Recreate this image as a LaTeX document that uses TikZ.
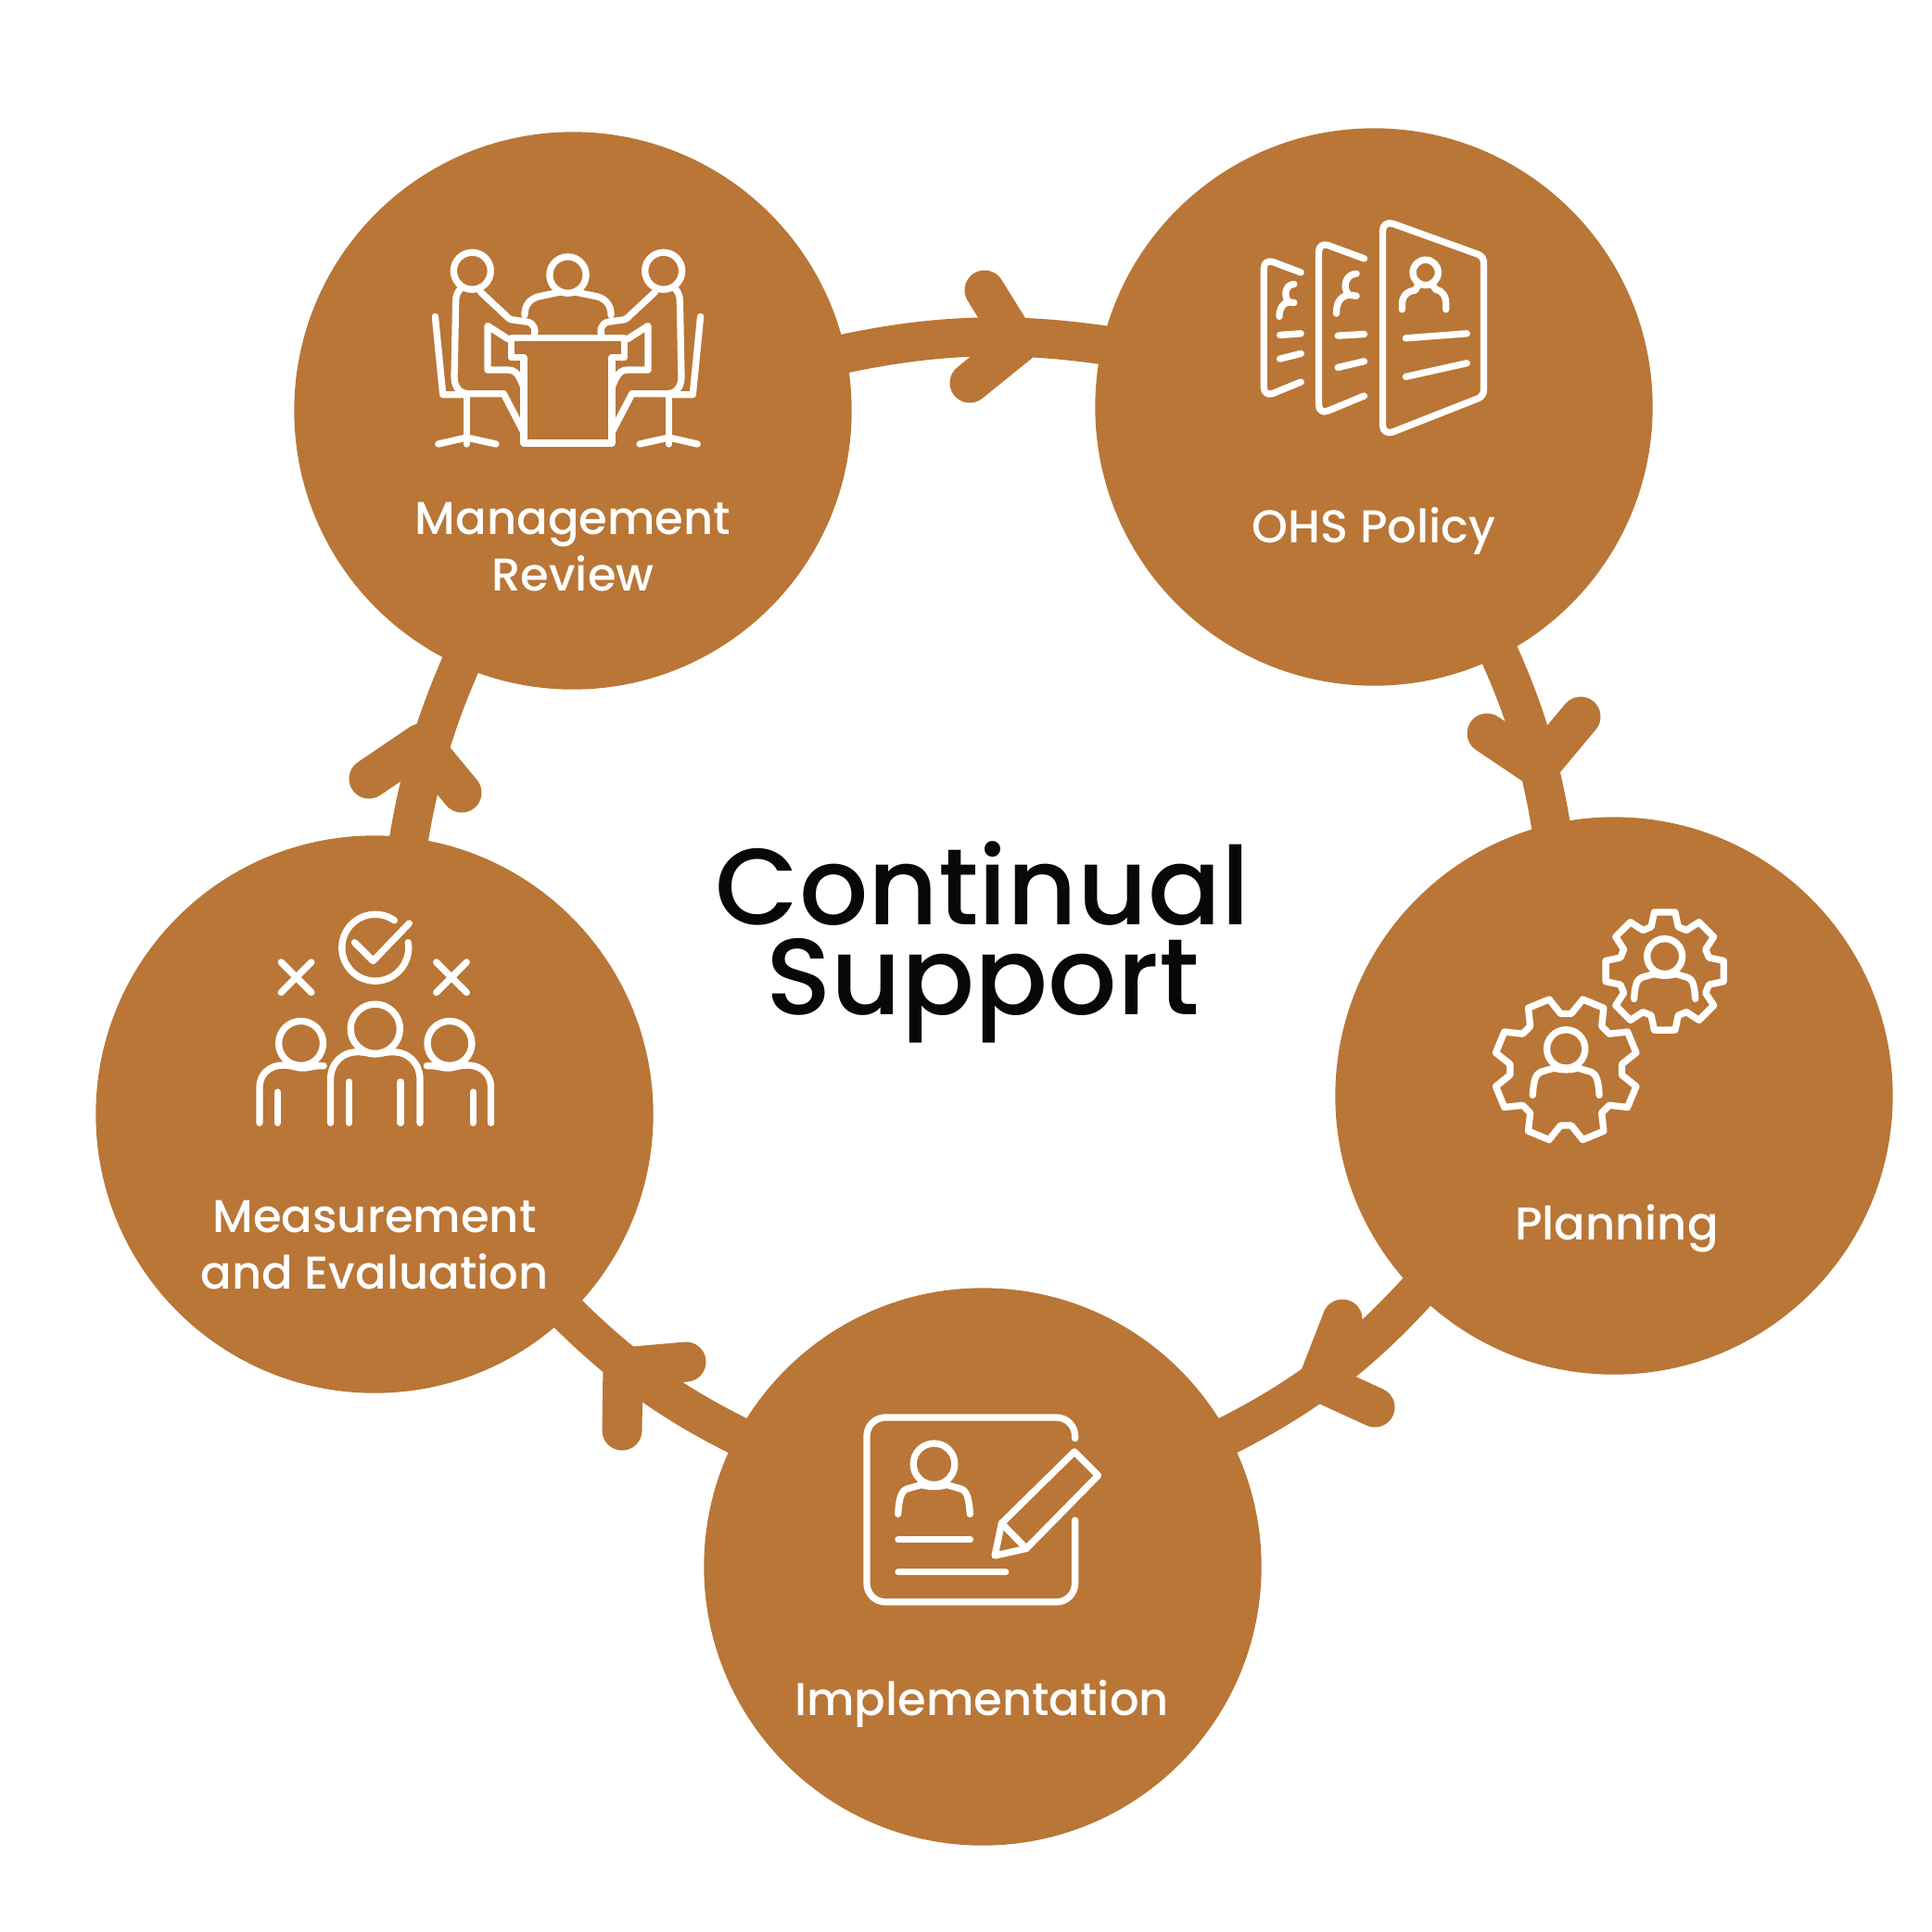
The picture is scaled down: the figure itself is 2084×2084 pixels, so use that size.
\documentclass[tikz,border=0pt]{standalone}
\usepackage{fontspec}
\setmainfont{Poppins}
\newfontfamily\titlefont[UprightFont={* Medium}]{Poppins}
\usetikzlibrary{backgrounds}
\definecolor{ochre}{RGB}{185,118,54}
\definecolor{inkblack}{RGB}{6,8,9}
\tikzset{
stage/.style = {circle, fill=ochre, minimum size=6.01cm, inner sep=0pt},
ringline/.style = {draw=ochre, line width=0.42cm, looseness=0.85, shorten <=-12pt, shorten >=-12pt},
headline/.style = {draw=ochre, line width=0.43cm, line cap=round, line join=round},
icon/.style = {draw=white, line width=0.073cm, line cap=round, line join=round},
zoomed/.style = {x=0.003333cm, y=-0.003333cm},
stagelabel/.style = {text=white, align=center, inner sep=0pt, font=\titlefont\fontsize{14.1}{17.3}\selectfont},
maintitle/.style = {text=inkblack, align=center, inner sep=0pt, font=\titlefont\fontsize{33.2}{27.6}\selectfont}
}
\newcommand{\bust}[3]{%
  \draw[icon] (#1,#2) circle[radius=#3];
  \draw[icon] ({#1-1.74*#3},{#2+2.42*#3}) .. controls ({#1-1.7*#3},{#2+1.7*#3}) and ({#1-1.6*#3},{#2+1.3*#3}) .. ({#1-1.3*#3},{#2+1.2*#3})
    -- ({#1-.6*#3},{#2+1.0*#3}) .. controls ({#1-.3*#3},{#2+1.12*#3}) and ({#1+.3*#3},{#2+1.12*#3}) .. ({#1+.6*#3},{#2+1.0*#3})
    -- ({#1+1.3*#3},{#2+1.2*#3}) .. controls ({#1+1.6*#3},{#2+1.3*#3}) and ({#1+1.7*#3},{#2+1.7*#3}) .. ({#1+1.74*#3},{#2+2.42*#3});
}
\begin{document}
\begin{tikzpicture}[x=0.01cm, y=-0.01cm]
    \useasboundingbox (0,0) rectangle (2084,2084);
    \node[stage] (review) at (618,443) {};
    \node[stage] (policy) at (1482,439) {};
    \node[stage] (planning) at (1741,1182) {};
    \node[stage] (implement) at (1060,1690) {};
    \node[stage] (measure) at (404,1202) {};
    \begin{scope}[on background layer]
    \draw[ringline] (review.12) to[bend left=12] (policy.167.7);
    \draw[ringline] (policy.-63.3) to[bend left=9] (planning.103);
    \draw[ringline] (planning.225) to[bend left=12.5] (implement.28);
    \draw[ringline] (implement.152.2) to[bend left=11] (measure.-46.4);
    \draw[ringline] (measure.83.7) to[bend left=8.5] (review.246.9);
    \draw[headline] (1062,313) -- (1098,371) -- (1046,413);
    \draw[headline] (1604,791) -- (1659,828) -- (1705,773);
    \draw[headline] (1448,1423) -- (1422,1490) -- (1483,1518);
    \draw[headline] (740,1469) -- (672,1475) -- (671,1543);
    \draw[headline] (398,840) -- (454,802) -- (498,855);
    \end{scope}
    \node[maintitle] (title) at (1060,1016) {Continual\\Support};
    \node[stagelabel] (reviewlabel) at (618,590) {Management\\Review};
    \node[stagelabel] (policylabel) at (1482,573) {OHS Policy};
    \node[stagelabel] (planninglabel) at (1744,1325) {Planning};
    \node[stagelabel] (implementlabel) at (1059,1838) {Implementation};
    \node[stagelabel] (measurelabel) at (404,1343) {Measurement\\and Evaluation};
    % meeting table
    \begin{scope}[shift={(612.5,240)},zoomed]
    \draw[icon] (0,170) circle[radius=59];
    \foreach \m in {1,-1} {
    \begin{scope}[xscale=\m]
    \draw[icon] (-310,157) circle[radius=60];
    \draw[icon] (-348,215) .. controls (-358,225) and (-362,238) .. (-363,250) -- (-368,500) .. controls (-368,535) and (-350,555) .. (-320,555) -- (-208,555) -- (-143,680);
    \draw[icon] (-430,305) -- (-405,558) -- (-325,558);
    \draw[icon] (-328,558) -- (-328,718);
    \draw[icon] (-420,718) -- (-328,697) -- (-233,718);
    \draw[icon] (-283,225) -- (-192,310) .. controls (-187,315) and (-182,315) .. (-175,316) -- (-132,322) .. controls (-110,325) and (-100,350) .. (-112,372);
    \draw[icon] (-193,378) -- (-260,335) -- (-260,478) -- (-195,478) .. controls (-170,478) and (-160,490) .. (-143,535);
    \draw[icon] (0,375) -- (-183,375) -- (-183,438) -- (-143,438) -- (-143,715) -- (0,715);
    \draw[icon] (-22,225) -- (-95,240) .. controls (-125,248) and (-140,270) .. (-140,300);
    \end{scope}
    }
    \end{scope}
    % policy sheets
    \begin{scope}[shift={(1340,220)},zoomed]
    \draw[icon] (455,400) [rounded corners=3.4pt] -- (455,52) [rounded corners=1.9pt] -- (783,170) -- (783,623) [rounded corners=3.4pt] -- (455,752) -- cycle;
    \draw[icon] (594,222) circle[radius=41];
    \draw[icon] (518,342) -- (518,325) .. controls (518,298) and (535,282) .. (560,280) -- (572,260);
    \draw[icon] (660,342) -- (660,325) .. controls (660,298) and (650,282) .. (628,278) -- (615,260);
    \draw[icon] (530,435) -- (728,420);
    \draw[icon] (530,560) -- (728,516);
    \draw[icon, rounded corners=3pt] (395,177) -- (248,123) -- (248,683) -- (395,622);
    \draw[icon] (310,427) -- (395,422);
    \draw[icon] (310,530) -- (395,510);
    \draw[icon] (370,226) .. controls (340,226) and (320,265) .. (345,295) -- (370,298);
    \draw[icon] (345,295) .. controls (320,300) and (305,315) .. (305,355);
    \draw[icon, rounded corners=3pt] (190,222) -- (70,177) -- (70,626) -- (190,577);
    \draw[icon] (122,425) -- (190,420);
    \draw[icon] (122,502) -- (190,485);
    \draw[icon] (168,260) .. controls (145,260) and (130,290) .. (150,318) -- (168,320);
    \draw[icon] (150,318) .. controls (130,322) and (120,340) .. (120,365);
    \end{scope}
    % planning gears
    \begin{scope}[shift={(1590,960)},zoomed]
    \begin{scope}[shift={(618,263)}]
    \draw[icon] (-17:150) \foreach \a in {0,45,...,315} { -- ({\a-17}:150) -- ({\a-10}:194) -- ({\a+10}:194) -- ({\a+17}:150) } -- cycle;
    \end{scope}
    \begin{scope}[shift={(298,582)}]
    \draw[icon] (5.5:182) \foreach \a in {22.5,67.5,...,337.5} { -- ({\a-17}:182) -- ({\a-9}:234) -- ({\a+9}:234) -- ({\a+17}:182) } -- cycle;
    \end{scope}
    \bust{618}{215}{57}
    \bust{298}{515}{62}
    \end{scope}
    % implementation sheet
    \begin{scope}[shift={(910,1510)},zoomed]
    \draw[icon, rounded corners=5.7pt] (750,125) -- (750,57) -- (75,57) -- (75,655) -- (750,655) -- (750,390);
    \bust{293}{208}{67}
    \draw[icon] (177,453) -- (410,453);
    \draw[icon] (177,558) -- (525,558);
    \draw[icon] (748,168) -- (825,245) -- (592,482) -- (490,505) -- (512,400) -- cycle;
    \draw[icon] (512,400) -- (592,482);
    \end{scope}
    % measurement group
    \begin{scope}[shift={(260,960)},zoomed]
    \draw[icon] plot[domain=-55:-369, samples=60] ({435+108*cos(\x)},{187+108*sin(\x)});
    \draw[icon] (368,170) -- (428,230) -- (545,108);
    \draw[icon] (130,234) -- (228,332);
    \draw[icon] (130,332) -- (228,234);
    \draw[icon] (633,234) -- (731,332);
    \draw[icon] (633,332) -- (731,234);
    \draw[icon] (435,450) circle[radius=80];
    \draw[icon] (290,755) -- (290,615) .. controls (290,560) and (330,525) .. (375,525) .. controls (410,525) and (415,532) .. (435,532) .. controls (455,532) and (460,525) .. (495,525) .. controls (540,525) and (580,560) .. (580,615) -- (580,755);
    \draw[icon] (350,622) -- (350,755);
    \draw[icon] (517,622) -- (517,755);
    \draw[icon] (194,497) circle[radius=72];
    \draw[icon] (60,755) -- (60,640) .. controls (60,595) and (95,568) .. (135,568) .. controls (170,568) and (175,577) .. (200,577) .. controls (225,577) and (235,568) .. (268,570);
    \draw[icon] (118,655) -- (118,755);
    \draw[icon] (676,497) circle[radius=72];
    \draw[icon] (810,755) -- (810,640) .. controls (810,595) and (775,568) .. (735,568) .. controls (700,568) and (695,577) .. (670,577) .. controls (645,577) and (635,568) .. (602,570);
    \draw[icon] (752,655) -- (752,755);
    \end{scope}
\end{tikzpicture}
\end{document}
